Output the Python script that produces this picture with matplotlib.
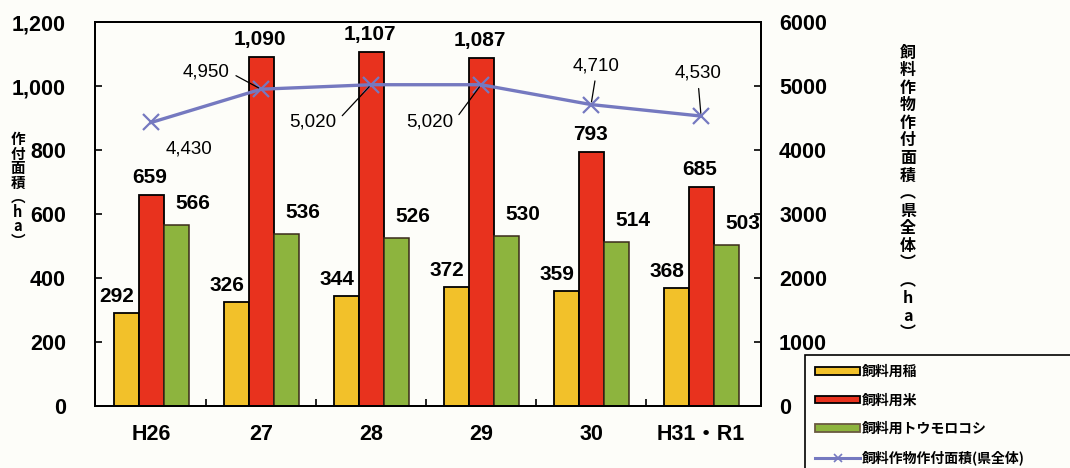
import numpy as np
import matplotlib
matplotlib.use("Agg")
import matplotlib.pyplot as plt
from matplotlib.patches import Patch
from matplotlib.lines import Line2D
from matplotlib.ticker import FixedLocator, FuncFormatter

plt.rcParams['font.family'] = ['Liberation Sans', 'Noto Sans CJK JP', 'DejaVu Sans']

# ---- data ----
categories = ['H26', '27', '28', '29', '30', 'H31・R1']
ine = [292, 326, 344, 372, 359, 368]            # 飼料用稲
kome = [659, 1090, 1107, 1087, 793, 685]        # 飼料用米
corn = [566, 536, 526, 530, 514, 503]           # 飼料用トウモロコシ
total = [4430, 4950, 5020, 5020, 4710, 4530]    # 飼料作物作付面積(県全体)
left_ticks = [0, 200, 400, 600, 800, 1000, 1200]
right_ticks = [0, 1000, 2000, 3000, 4000, 5000, 6000]
series_names = ['飼料用稲', '飼料用米', '飼料用トウモロコシ', '飼料作物作付面積(県全体)']

# ---- style ----
bg = '#fdfdf9'
c_ine = '#f2c12a'
c_kome = '#e8321e'
c_corn = '#8db43e'
c_line = '#7579c0'
W, H = 1070, 468

fig = plt.figure(figsize=(W / 100, H / 100), dpi=100, facecolor=bg)
ax = fig.add_axes([95 / W, 1 - 406 / H, (761 - 95) / W, (406 - 22) / H])
ax.set_facecolor(bg)

x = np.arange(len(categories))
w = 0.227
ax.bar(x - w, ine, w, color=c_ine, edgecolor='black', linewidth=1.3, zorder=2)
ax.bar(x, kome, w, color=c_kome, edgecolor='black', linewidth=1.3, zorder=2)
ax.bar(x + w, corn, w, color=c_corn, edgecolor='#3a2a1a', linewidth=1.1, zorder=2)

ax.set_xlim(-0.51, 5.545)
ax.set_ylim(0, 1200)
ax.yaxis.set_major_locator(FixedLocator(left_ticks))
ax.yaxis.set_major_formatter(FuncFormatter(lambda v, p: f"{int(v):,}"))
ax.tick_params(axis='y', direction='in', length=5, width=1.2, pad=21,
               labelsize=15.5)
for t in ax.get_yticklabels():
    t.set_fontweight('bold')
ax.set_xticks(x)
ax.set_xticklabels(categories, fontsize=15.5, fontweight='bold')
ax.tick_params(axis='x', which='major', length=0, pad=13)
ax.xaxis.set_minor_locator(FixedLocator(x[:-1] + 0.5))
ax.tick_params(axis='x', which='minor', direction='in', length=5, width=1.2)
for s in ax.spines.values():
    s.set_linewidth(1.4)
    s.set_color('black')

# bar labels
lab_kw = dict(textcoords='offset pixels', ha='center', va='bottom',
              fontsize=15, fontweight='bold', zorder=5)
for i in range(len(categories)):
    ax.annotate(f"{ine[i]:,}", (x[i] - w, ine[i]), xytext=(-9, 7), **lab_kw)
    ax.annotate(f"{kome[i]:,}", (x[i], kome[i]), xytext=(-1, 8), **lab_kw)
    ax.annotate(f"{corn[i]:,}", (x[i] + w, corn[i]), xytext=(17, 12), **lab_kw)

# right axis line
ax2 = ax.twinx()
ax2.set_ylim(0, 6000)
ax2.yaxis.set_major_locator(FixedLocator(right_ticks))
ax2.tick_params(axis='y', direction='in', length=5, width=1.2, pad=13,
                labelsize=15.5)
for t in ax2.get_yticklabels():
    t.set_fontweight('bold')
for s in ax2.spines.values():
    s.set_linewidth(1.4)
ax2.plot(x, total, color=c_line, lw=2.4, marker='x', ms=11, mew=1.6, zorder=4)

# line labels (offset in pixels, and leader anchor)
offs = [(38, -27, None), (-55, 17, (1, 0.5)), (-58, -37, (1, 0.5)),
        (-51, -37, (1, 0.5)), (5, 39, (0.5, 0)), (-3, 43, (0.5, 0))]
for i, (dx, dy, rp) in enumerate(offs):
    kw = dict(textcoords='offset pixels', ha='center', va='center',
              fontsize=13.5, zorder=6)
    if rp is not None:
        kw['arrowprops'] = dict(arrowstyle='-', color='black', lw=0.9,
                                relpos=rp, shrinkA=3, shrinkB=2)
    ax2.annotate(f"{total[i]:,}", (x[i], total[i]), xytext=(dx, dy), **kw)

# vertical axis titles
jp = ['Noto Sans CJK JP', 'DejaVu Sans']
left_title = "作付面積︵ha︶"
fig.text(18 / W, 1 - 190 / H, "\n".join(left_title), family=jp, fontsize=10.5,
         fontweight='bold', ha='center', va='center', linespacing=0.88)
right_title = "飼料作物作付面積︵県全体︶︵ha︶"
fig.text(908 / W, 1 - 193 / H, "\n".join(right_title), family=jp, fontsize=11.5,
         fontweight='bold', ha='center', va='center', linespacing=1.12)

# legend
handles = [Patch(facecolor=c_ine, edgecolor='black', linewidth=1.3),
           Patch(facecolor=c_kome, edgecolor='black', linewidth=1.3),
           Patch(facecolor=c_corn, edgecolor='#6a5a40', linewidth=1.3),
           Line2D([], [], color=c_line, lw=2.2, marker='x', ms=6, mew=1.2)]
leg = fig.legend(handles, series_names, loc='upper left',
                 bbox_to_anchor=(805 / W, 1 - 355 / H, 320 / W, 0.001),
                 mode='expand', prop={'family': jp, 'size': 10, 'weight': 'bold'},
                 handlelength=3.2, handleheight=0.45, handletextpad=0.15,
                 labelspacing=1.05, borderpad=0.75, borderaxespad=0,
                 fancybox=False, framealpha=1, edgecolor='black',
                 facecolor=bg, numpoints=1)
leg.get_frame().set_linewidth(1.2)

fig.savefig('out.png', dpi=100, facecolor=bg)
